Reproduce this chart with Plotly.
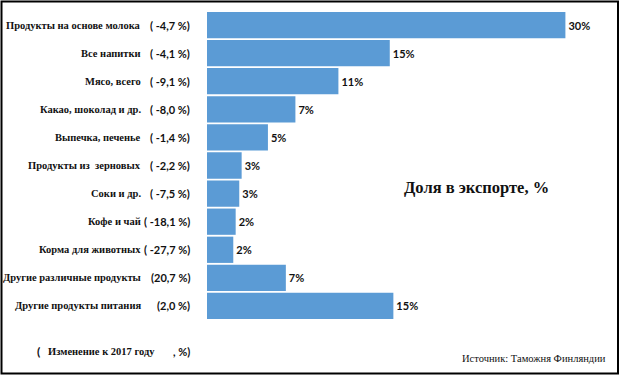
import plotly.graph_objects as go

# ---- data ----
categories = [
    "Продукты на основе молока",
    "Все напитки",
    "Мясо, всего",
    "Какао, шоколад и др.",
    "Выпечка, печенье",
    "Продукты из  зерновых",
    "Соки и др.",
    "Кофе и чай",
    "Корма для животных",
    "Другие различные продукты",
    "Другие продукты питания",
]
share_values = [30.0, 15.3, 11.0, 7.4, 5.1, 2.9, 2.7, 2.4, 2.2, 6.6, 15.6]
share_labels = ["30%", "15%", "11%", "7%", "5%", "3%", "3%", "2%", "2%", "7%", "15%"]
change_labels = ["( -4,7 %)", "( -4,1 %)", "( -9,1 %)", "( -8,0 %)", "( -1,4 %)",
                 "( -2,2 %)", "( -7,5 %)", "( -18,1 %)", "( -27,7 %)",
                 "(20,7 %)", "(2,0 %)"]

# ---- layout geometry ----
FIG_W, FIG_H = 621, 376
L, R, T, B = 207, 11, 11, 56
PW, PH = FIG_W - L - R, FIG_H - T - B
X_MAX = 30.0 * PW / 358.4


def px(xp):
    return (xp - L) / PW


def py(yp):
    return 1 - (yp - T) / PH


BAR_COLOR = "#5B9BD5"
SERIF = "Liberation Serif"
SANS = "Lato"

fig = go.Figure(go.Bar(
    y=categories,
    x=share_values,
    orientation="h",
    marker=dict(color=BAR_COLOR, line=dict(width=0)),
    text=share_labels,
    textposition="outside",
    textfont=dict(family=SANS, size=11, color="#111111", weight="bold"),
    cliponaxis=False,
    hoverinfo="skip",
))

annotations = []
for cat, ch in zip(categories, change_labels):
    annotations.append(dict(
        x=px(143), y=cat, xref="paper", yref="y", xanchor="right", yanchor="middle",
        text="<b>%s</b>" % cat, showarrow=False,
        font=dict(family=SERIF, size=10.5, color="#111111"),
    ))
    annotations.append(dict(
        x=px(192), y=cat, xref="paper", yref="y", xanchor="right", yanchor="middle",
        text="<b>%s</b>" % ch, showarrow=False,
        font=dict(family=SANS, size=11, color="#111111"),
    ))

annotations += [
    dict(x=px(402), y=py(187), xref="paper", yref="paper", xanchor="left", yanchor="middle",
         text="<b>Доля в экспорте, %</b>", showarrow=False,
         font=dict(family=SERIF, size=16.5, color="#111111")),
    dict(x=px(608), y=py(358), xref="paper", yref="paper", xanchor="right", yanchor="middle",
         text="Источник: Таможня Финляндии", showarrow=False,
         font=dict(family=SERIF, size=10.5, color="#111111")),
    dict(x=px(35), y=py(351), xref="paper", yref="paper", xanchor="left", yanchor="middle",
         text="<b>(</b>", showarrow=False,
         font=dict(family=SANS, size=12, color="#111111")),
    dict(x=px(46), y=py(351), xref="paper", yref="paper", xanchor="left", yanchor="middle",
         text="<b>Изменение к 2017 году</b>", showarrow=False,
         font=dict(family=SERIF, size=10.5, color="#111111")),
    dict(x=px(192), y=py(351), xref="paper", yref="paper", xanchor="right", yanchor="middle",
         text="<b>, %)</b>", showarrow=False,
         font=dict(family=SANS, size=11, color="#111111")),
]

fig.update_layout(
    width=FIG_W, height=FIG_H,
    margin=dict(l=L, r=R, t=T, b=B, pad=0),
    paper_bgcolor="white", plot_bgcolor="white",
    showlegend=False,
    bargap=0.065,
    xaxis=dict(range=[0, X_MAX], visible=False, fixedrange=True),
    yaxis=dict(type="category", categoryorder="array", categoryarray=categories,
               range=[10.5, -0.5], showticklabels=False, showgrid=False,
               zeroline=False, showline=False, ticks="", fixedrange=True),
    annotations=annotations,
    shapes=[dict(type="rect", xref="paper", yref="paper",
                 x0=px(1.5), x1=px(618), y0=py(1.5), y1=py(373.5),
                 line=dict(color="black", width=2), fillcolor="rgba(0,0,0,0)",
                 layer="above")],
)

fig.write_html("out.html", config={"displayModeBar": False},
               post_script="document.body.style.margin='0';document.body.style.overflow='hidden';")
